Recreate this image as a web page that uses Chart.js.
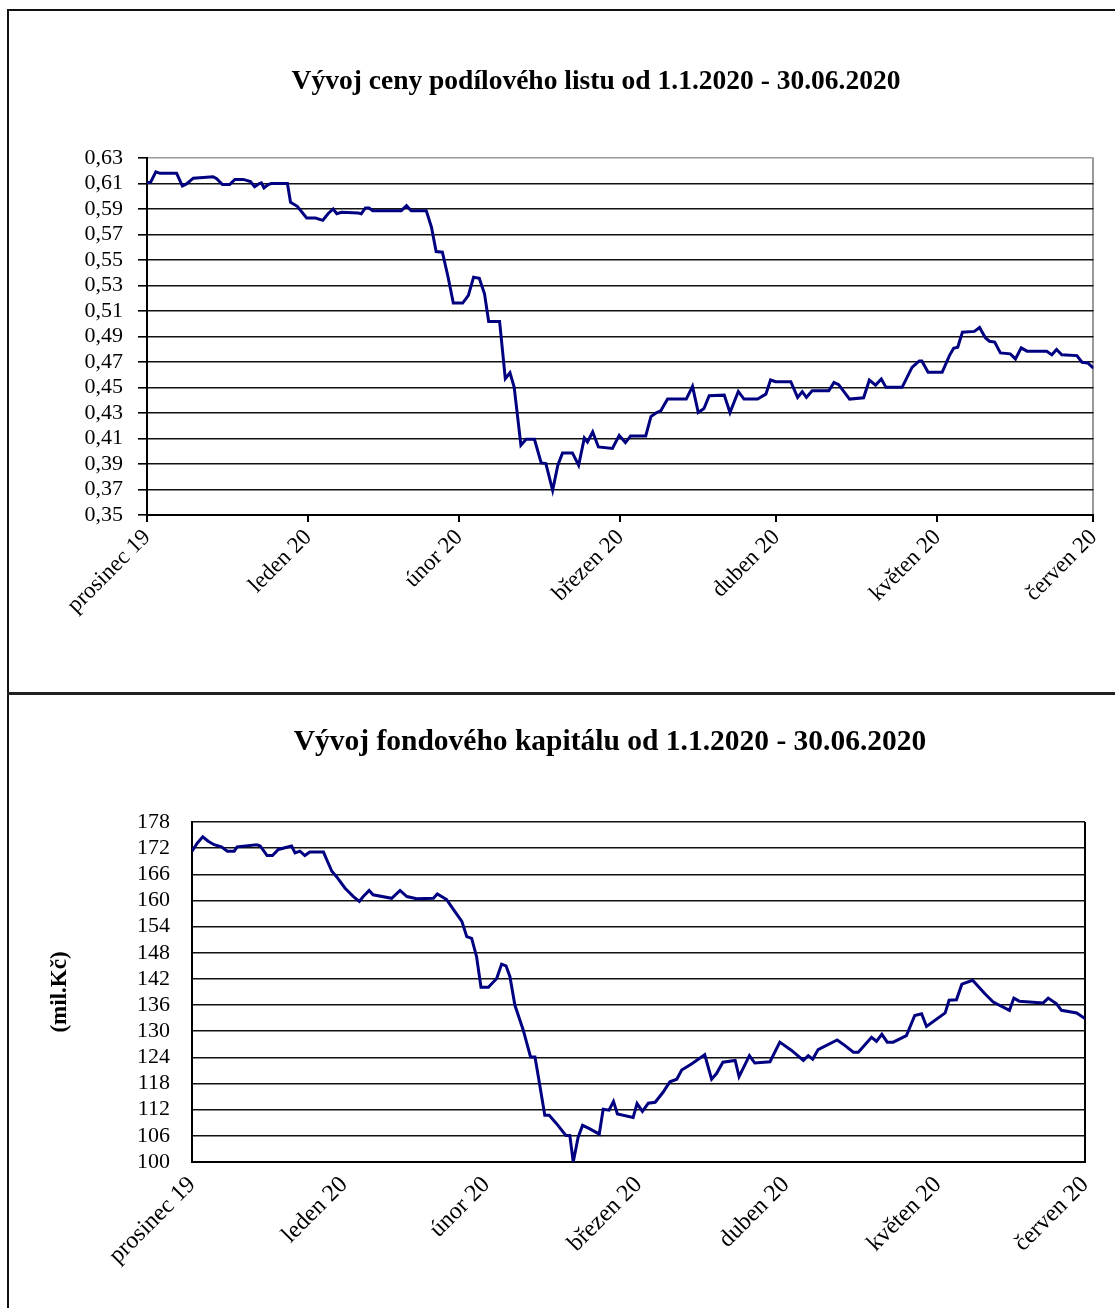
<!DOCTYPE html>
<html lang="cs">
<head>
<meta charset="utf-8">
<title>Vývoj ceny podílového listu a fondového kapitálu</title>
<script src="https://cdn.jsdelivr.net/npm/chart.js@4.4.1/dist/chart.umd.min.js"></script>
<style>
  html, body { margin: 0; padding: 0; background: #fff; }
  body { width: 1115px; height: 1308px; position: relative; overflow: hidden; }
  .frame { position: absolute; left: 7px; top: 9px; width: 1115px; height: 1400px;
           border-top: 2px solid #111; border-left: 2px solid #111; }
  .sep { position: absolute; left: 7px; top: 692px; width: 1115px; height: 3px; background: #222; }
  .wrap { position: absolute; }
  #topWrap { left: 10px; top: 12px; width: 1105px; height: 680px; }
  #bottomWrap { left: 10px; top: 697px; width: 1105px; height: 611px; }
</style>
</head>
<body>
<div class="frame"></div>
<div class="sep"></div>
<div class="wrap" id="topWrap"><canvas id="priceChart"></canvas></div>
<div class="wrap" id="bottomWrap"><canvas id="capitalChart"></canvas></div>
<script>
'use strict';

// x axis = days since 31.12.2019, ticks at month ends
const monthTickDays = [0, 31, 60, 91, 121, 152, 182];
const monthLabels = ['prosinec 19', 'leden 20', 'únor 20', 'březen 20', 'duben 20', 'květen 20', 'červen 20'];

// cena podílového listu (Kč)
const priceDays = [0, 0.7, 1.7, 2.5, 5.7, 6.8, 7.6, 8.9, 12.7, 13.4, 14.5, 15.9, 16.9, 18.5, 19.9, 20.7, 21.6, 22.0, 22.5, 23.3,
  23.9, 27.0, 27.6, 28.9, 30.7, 32.4, 33.8, 34.8, 35.8, 36.5, 37.4, 40.6, 41.2, 42.0, 42.7, 43.4, 48.9, 49.9, 50.8, 53.7,
  54.7, 55.6, 56.8, 57.9, 58.9, 60.7, 61.8, 62.8, 63.9, 64.9, 65.7, 67.8, 68.9, 69.8, 70.6, 71.9, 72.9, 74.5, 75.8, 76.7,
  78.0, 79.0, 79.9, 81.8, 83.0, 84.1, 84.7, 85.7, 86.8, 89.5, 90.8, 92.0, 93.0, 95.9, 96.9, 98.0, 98.8, 100.1, 103.7, 104.9,
  106.0, 107.1, 108.1, 111.0, 112.1, 113.7, 114.8, 117.4, 119.0, 119.9, 120.9, 123.8, 125.1, 126.0, 126.8, 127.9, 131.1, 132.1, 133.0, 135.1,
  137.8, 138.9, 140.1, 141.2, 142.1, 145.2, 147.1, 148.5, 149.0, 150.2, 152.9, 154.3, 155.1, 155.9, 156.8, 159.1, 160.1, 161.2, 162.0, 163.0,
  164.1, 166.0, 167.0, 168.1, 169.2, 173.0, 174.0, 174.9, 175.9, 178.8, 179.8, 180.9, 182];
const priceValues = [0.6105, 0.6111, 0.6192, 0.618, 0.618, 0.608, 0.6097, 0.6142, 0.6153, 0.6137, 0.6092, 0.6092, 0.6132, 0.6132, 0.6116, 0.6074, 0.61, 0.6105, 0.6066, 0.6092,
  0.61, 0.61, 0.5953, 0.5921, 0.5829, 0.5829, 0.5811, 0.5863, 0.59, 0.5863, 0.5874, 0.5868, 0.5863, 0.5908, 0.5908, 0.5887, 0.5887, 0.5926, 0.5887, 0.5887,
  0.5757, 0.5566, 0.5561, 0.5365, 0.5162, 0.5162, 0.5222, 0.5365, 0.5357, 0.5235, 0.5018, 0.5018, 0.4569, 0.4616, 0.4504, 0.4047, 0.4094, 0.4094, 0.3908, 0.3903,
  0.3694, 0.389, 0.3987, 0.3987, 0.389, 0.4104, 0.4073, 0.4151, 0.4034, 0.4022, 0.4125, 0.4067, 0.412, 0.412, 0.4272, 0.4304, 0.4317, 0.4409, 0.4409, 0.4509,
  0.4304, 0.4335, 0.4435, 0.444, 0.4304, 0.4469, 0.4409, 0.4409, 0.4448, 0.4559, 0.4545, 0.4545, 0.4422, 0.4467, 0.4422, 0.4475, 0.4475, 0.454, 0.4522, 0.4409,
  0.4419, 0.4559, 0.4519, 0.4567, 0.4501, 0.4501, 0.4658, 0.4708, 0.4708, 0.4619, 0.4619, 0.475, 0.4808, 0.4816, 0.4934, 0.494, 0.4971, 0.489, 0.4863, 0.4856,
  0.4771, 0.4764, 0.4724, 0.4811, 0.4785, 0.4785, 0.4756, 0.4798, 0.4756, 0.475, 0.4698, 0.4693, 0.4651];

// fondový kapitál (mil. Kč)
const capitalDays = [0, 1.1, 2.2, 3.3, 4.5, 6.0, 7.2, 8.6, 9.2, 13.2, 13.9, 15.3, 16.4, 17.6, 20.3, 21.0, 22.0, 23.0, 24.0, 26.8,
  27.6, 28.5, 29.5, 31.2, 32.9, 34.1, 34.9, 36.1, 36.9, 40.7, 42.4, 43.8, 45.8, 49.2, 50.0, 51.9, 53.3, 55.0, 56.0, 57.0,
  58.0, 58.9, 60.4, 62.1, 63.1, 64.0, 64.8, 65.8, 67.5, 69.0, 69.9, 70.6, 71.9, 72.8, 74.3, 76.2, 77.0, 77.7, 78.7, 79.6,
  81.1, 83.0, 83.8, 85.0, 85.9, 86.7, 89.9, 90.7, 91.8, 93.0, 94.4, 96.0, 97.4, 98.8, 99.8, 101.8, 104.5, 105.9, 106.9, 108.2,
  110.7, 111.5, 113.6, 114.7, 117.8, 119.8, 122.2, 124.6, 125.6, 126.5, 127.6, 131.5, 133.1, 134.8, 135.8, 138.5, 139.5, 140.6, 141.7, 142.9,
  145.6, 147.3, 148.7, 149.7, 153.5, 154.3, 155.8, 156.9, 159.1, 161.6, 163.3, 166.6, 167.5, 168.6, 173.5, 174.5, 176.2, 177.2, 180.3, 182];
const capitalValues = [171.3, 173.2, 174.6, 173.6, 172.8, 172.3, 171.3, 171.3, 172.3, 172.8, 172.5, 170.3, 170.3, 171.7, 172.5, 170.9, 171.3, 170.3, 171.1, 171.1,
  169.0, 166.7, 165.4, 162.8, 160.9, 159.8, 160.9, 162.3, 161.3, 160.5, 162.3, 160.9, 160.4, 160.5, 161.5, 160.2, 157.9, 155.2, 151.7, 151.3,
  147.1, 140.1, 140.1, 142.1, 145.4, 145.0, 142.5, 136.0, 130.3, 124.1, 124.1, 119.5, 110.7, 110.7, 108.8, 106.1, 106.1, 100.0, 105.7, 108.4,
  107.6, 106.4, 112.1, 111.9, 113.9, 111.0, 110.2, 113.4, 111.6, 113.5, 113.7, 116.0, 118.4, 119.0, 121.1, 122.5, 124.6, 119.0, 120.3, 122.9,
  123.3, 119.6, 124.4, 122.7, 123.0, 127.5, 125.6, 123.3, 124.4, 123.6, 125.8, 128.0, 126.7, 125.2, 125.2, 128.6, 127.7, 129.3, 127.5, 127.5,
  129.0, 133.6, 134.0, 131.1, 134.2, 137.1, 137.2, 140.8, 141.7, 138.6, 136.7, 134.8, 137.6, 136.9, 136.5, 137.6, 136.3, 134.8, 134.2, 132.9];

const SERIF = "'Liberation Serif', 'Times New Roman', serif";
const LINE = '#000080';

// chart heading drawn at a fixed spot (Excel centres it over the plot, not the canvas)
const headingPlugin = {
  id: 'heading',
  afterDraw(chart, args, opts) {
    const ctx = chart.ctx;
    ctx.save();
    ctx.font = `bold ${opts.size}px ${SERIF}`;
    ctx.fillStyle = '#000';
    ctx.textAlign = 'center';
    ctx.textBaseline = 'middle';
    ctx.fillText(opts.text, opts.x, opts.y);
    ctx.restore();
  }
};

function points(xs, ys) { return xs.map((x, i) => ({ x, y: ys[i] })); }

function monthAxis(cfg) {
  return {
    type: 'linear', min: 0, max: 182,
    afterBuildTicks: s => { s.ticks = monthTickDays.map(v => ({ value: v })); },
    afterFit: s => { s.height = cfg.height; },
    ticks: {
      autoSkip: false, maxRotation: 45, minRotation: 45, padding: cfg.pad,
      color: '#000', font: { family: SERIF, size: cfg.size },
      callback: (v, i) => monthLabels[i]
    },
    grid: {
      drawOnChartArea: true, drawTicks: cfg.tickLen > 0, tickLength: cfg.tickLen,
      color: ctx => ctx.index === monthTickDays.length - 1 ? cfg.rightColor : 'rgba(0,0,0,0)',
      tickColor: '#000', lineWidth: 2
    },
    border: { display: true, color: '#000', width: 2 }
  };
}

new Chart(document.getElementById('priceChart'), {
  type: 'line',
  data: { datasets: [{ data: points(priceDays, priceValues), borderColor: LINE, borderWidth: 3, pointRadius: 0, tension: 0 }] },
  options: {
    responsive: true, maintainAspectRatio: false, animation: false,
    layout: { padding: { left: 0, right: 18, top: 146, bottom: 0 } },
    plugins: {
      legend: { display: false }, tooltip: { enabled: false }, title: { display: false },
      heading: { text: 'Vývoj ceny podílového listu od 1.1.2020 - 30.06.2020', size: 27.5, x: 586, y: 70 }
    },
    scales: {
      x: monthAxis({ height: 177, size: 23, pad: 2, tickLen: 7, rightColor: '#9a9a9a' }),
      y: {
        min: 0.35, max: 0.63,
        afterFit: s => { s.width = 137; },
        ticks: {
          stepSize: 0.02, autoSkip: false, padding: 15, color: '#000', font: { family: SERIF, size: 22 },
          callback: v => v.toFixed(2).replace('.', ',')
        },
        grid: {
          tickLength: 9, lineWidth: 1.6, tickColor: '#000',
          color: ctx => ctx.index === 14 ? '#9a9a9a' : '#111'
        },
        border: { display: true, color: '#000', width: 2 }
      }
    }
  },
  plugins: [headingPlugin]
});

new Chart(document.getElementById('capitalChart'), {
  type: 'line',
  data: { datasets: [{ data: points(capitalDays, capitalValues), borderColor: LINE, borderWidth: 3, pointRadius: 0, tension: 0 }] },
  options: {
    responsive: true, maintainAspectRatio: false, animation: false,
    layout: { padding: { left: 0, right: 30, top: 125, bottom: 0 } },
    plugins: {
      legend: { display: false }, tooltip: { enabled: false }, title: { display: false },
      heading: { text: 'Vývoj fondového kapitálu od 1.1.2020 - 30.06.2020', size: 29.5, x: 600, y: 45 }
    },
    scales: {
      x: monthAxis({ height: 146, size: 24, pad: 9, tickLen: 0, rightColor: '#000' }),
      y: {
        min: 100, max: 178,
        afterFit: s => { s.width = 182; },
        title: {
          display: true, text: '(mil.Kč)', color: '#000',
          font: { family: SERIF, size: 23, weight: 'bold', lineHeight: 1.2 },
          padding: { top: 36, bottom: 0 }
        },
        ticks: {
          stepSize: 6, autoSkip: false, padding: 22, color: '#000', font: { family: SERIF, size: 22 }
        },
        grid: { drawTicks: false, lineWidth: 1.6, color: '#111' },
        border: { display: true, color: '#000', width: 2 }
      }
    }
  },
  plugins: [headingPlugin]
});
</script>
</body>
</html>
